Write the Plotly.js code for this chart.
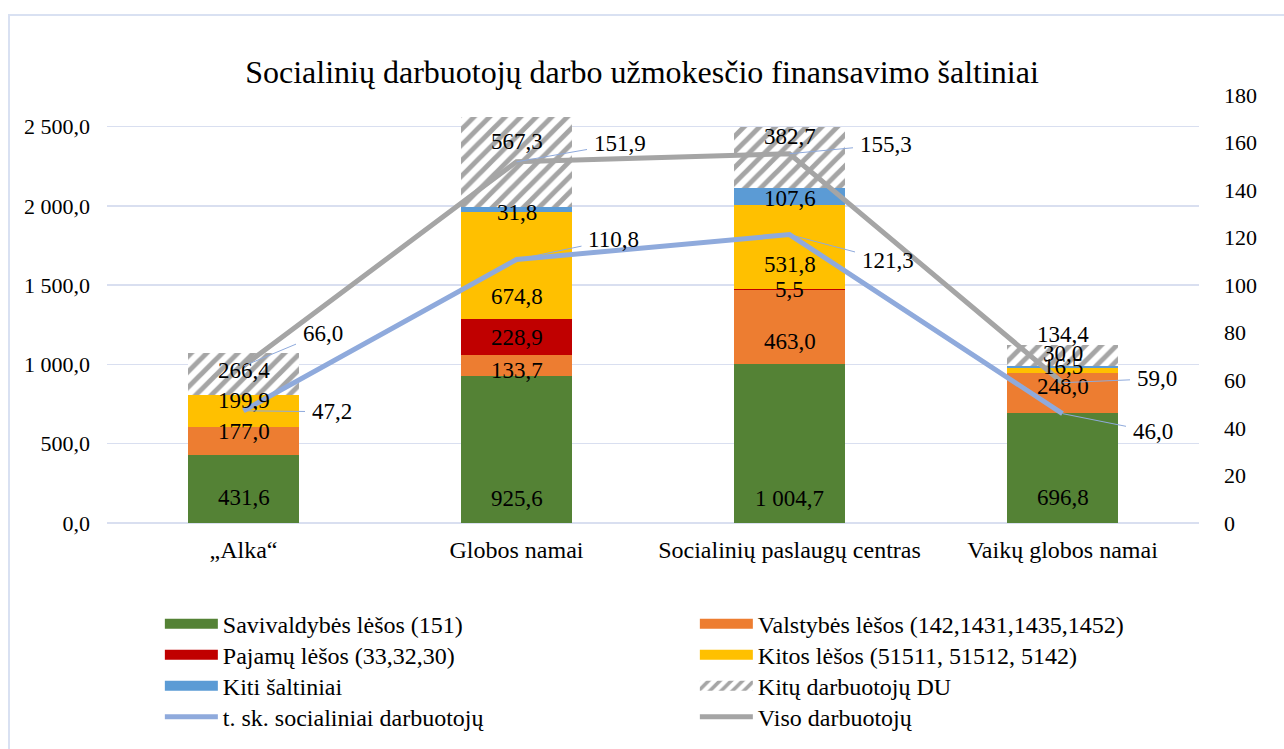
<!DOCTYPE html>
<html>
<head>
<meta charset="utf-8">
<script src="https://cdn.plot.ly/plotly-3.0.1.min.js"></script>
<style>
html,body{margin:0;padding:0;overflow:hidden;background:#fff;}
#chart{width:1284px;height:749px;}
#frame{position:absolute;left:8px;top:14px;width:1300px;height:800px;border:2px solid #D9E1F2;pointer-events:none;}
</style>
</head>
<body>
<div id="chart"></div>
<div id="frame"></div>
<script>
// ---- data ----
const categories = ['„Alka“', 'Globos namai', 'Socialinių paslaugų centras', 'Vaikų globos namai'];
const savivaldybes = [431.6, 925.6, 1004.7, 696.8];
const valstybes = [177.0, 133.7, 463.0, 248.0];
const pajamu = [null, 228.9, 5.5, null];
const kitos = [199.9, 674.8, 531.8, 30.0];
const kiti = [null, 31.8, 107.6, 16.5];
const kituDU = [266.4, 567.3, 382.7, 134.4];
const socialiniai = [47.2, 110.8, 121.3, 46.0];
const viso = [66.0, 151.9, 155.3, 59.0];
const seriesNames = ['Savivaldybės lėšos (151)', 'Valstybės lėšos (142,1431,1435,1452)', 'Pajamų lėšos (33,32,30)',
  'Kitos lėšos (51511, 51512, 5142)', 'Kiti šaltiniai', 'Kitų darbuotojų DU'];
const lineNames = ['t. sk. socialiniai darbuotojų', 'Viso darbuotojų'];
const leftTicks = [0, 500, 1000, 1500, 2000, 2500];
const rightTicks = [0, 20, 40, 60, 80, 100, 120, 140, 160, 180];

// ---- styles ----
const FONT = 'Liberation Serif';
const barColors = ['#548235', '#ED7D31', '#C00000', '#FFC000', '#5B9BD5', '#FFFFFF'];
// label offsets (pixels, positive = downwards) relative to segment centre
const labelShift = [
  [9, 49, 55, 30],
  [-9, 5, 14, -6],
  [0, 1, 0, 0],
  [-10, 31, 17, -17],
  [0, 3, 2, -1],
  [-3, -20, -21, -21]
];
// line label offsets (pixels) [ax, ay]
const socOffsets = [[88, 1], [97, -20], [98, 26], [90, 18]];
const visoOffsets = [[79, -33], [103, -18], [96, -9], [94, -4]];
const LEGEND_ROW_STEP = 31;

function fmt(v) {
  const s = v.toFixed(1).split('.');
  const intPart = s[0].replace(/\B(?=(\d{3})+(?!\d))/g, ' ');
  return intPart + ',' + s[1];
}

const barSeries = [savivaldybes, valstybes, pajamu, kitos, kiti, kituDU];
const traces = barSeries.map((vals, k) => {
  const t = {
    type: 'bar', x: categories, y: vals, name: seriesNames[k],
    marker: {color: barColors[k], line: {width: 0}},
    hoverinfo: 'skip'
  };
  if (k === 5) {
    t.marker.pattern = {shape: '/', fgcolor: '#A5A5A5', bgcolor: '#FFFFFF', size: 11, solidity: 0.45, fillmode: 'replace'};
  }
  return t;
});
traces.push({
  type: 'scatter', mode: 'lines', x: categories, y: socialiniai, name: lineNames[0], yaxis: 'y2',
  line: {color: '#8FAADC', width: 5}, hoverinfo: 'skip'
});
traces.push({
  type: 'scatter', mode: 'lines', x: categories, y: viso, name: lineNames[1], yaxis: 'y2',
  line: {color: '#A5A5A5', width: 5}, hoverinfo: 'skip'
});

// bar labels
const annotations = [];
const base = categories.map(() => 0);
barSeries.forEach((vals, k) => {
  vals.forEach((v, i) => {
    if (v === null || v === undefined) return;
    annotations.push({
      x: categories[i], y: base[i] + v / 2, xref: 'x', yref: 'y',
      text: fmt(v), showarrow: false, yshift: -labelShift[k][i],
      font: {family: FONT, size: 23, color: '#000'}
    });
    base[i] += v;
  });
});
// line labels with leader lines
[[socialiniai, socOffsets], [viso, visoOffsets]].forEach(([vals, offs]) => {
  vals.forEach((v, i) => {
    annotations.push({
      x: categories[i], y: v, xref: 'x', yref: 'y2',
      text: fmt(v), showarrow: true, arrowhead: 0, arrowwidth: 1, arrowcolor: '#8FAADC',
      ax: offs[i][0], ay: offs[i][1], borderpad: 6, standoff: 0,
      font: {family: FONT, size: 23, color: '#000'}
    });
  });
});

const layout = {
  width: 1284, height: 749,
  margin: {l: 107, r: 85, t: 95, b: 226, autoexpand: false},
  paper_bgcolor: '#FFFFFF', plot_bgcolor: '#FFFFFF',
  separators: ', ',
  font: {family: FONT, size: 22, color: '#000'},
  title: {text: 'Socialinių darbuotojų darbo užmokesčio finansavimo šaltiniai',
    font: {family: FONT, size: 32, color: '#000'}, x: 0.5, xref: 'container', y: 1 - 72 / 749, yref: 'container', yanchor: 'middle'},
  barmode: 'stack', bargap: 0.597,
  showlegend: true,
  xaxis: {type: 'category', showgrid: false, showline: false, ticks: '', tickfont: {family: FONT, size: 24},
    ticklabelstandoff: 10, fixedrange: true},
  yaxis: {range: [0, 2700], tickvals: leftTicks, tickformat: ',.1f', showgrid: true, gridcolor: '#D9DFF0', gridwidth: 1.5,
    zeroline: true, zerolinecolor: '#D9DFF0', zerolinewidth: 1.5, showline: false, ticks: '',
    tickfont: {family: FONT, size: 22}, ticklabelstandoff: 16},
  yaxis2: {range: [0, 180], tickvals: rightTicks, overlaying: 'y', side: 'right', showgrid: false, zeroline: false,
    showline: false, ticks: '', tickfont: {family: FONT, size: 22}, ticklabelstandoff: 24},
  legend: {orientation: 'h', x: 0.0484, xanchor: 'left', y: -0.1836, yanchor: 'top', traceorder: 'normal',
    entrywidth: 467, entrywidthmode: 'pixels', itemwidth: 53, font: {family: FONT, size: 24, color: '#000'},
    bgcolor: 'rgba(0,0,0,0)', itemclick: false, itemdoubleclick: false},
  annotations: annotations
};

Plotly.newPlot('chart', traces, layout, {staticPlot: true, displayModeBar: false}).then(() => {
  document.querySelectorAll('#chart .legend .legendpoints path').forEach(p => {
    const d = (p.getAttribute('d') || '').replace(/\s/g, '');
    if (d === 'M6,6H-6V-6H6Z') {
      p.setAttribute('d', 'M26.5,5H-26.5V-5H26.5Z');
    }
  });
  // tighten legend row spacing to match the reference
  const items = Array.from(document.querySelectorAll('#chart .legend g.traces'));
  const parsed = items.map(el => {
    const m = /translate\(\s*([-\d.]+)[ ,]+([-\d.]+)\s*\)/.exec(el.getAttribute('transform') || '');
    return m ? {el, x: parseFloat(m[1]), y: parseFloat(m[2])} : null;
  }).filter(Boolean);
  const rows = Array.from(new Set(parsed.map(p => p.y))).sort((a, b) => a - b);
  parsed.forEach(p => {
    const r = rows.indexOf(p.y);
    p.el.setAttribute('transform', 'translate(' + p.x + ',' + (rows[0] + r * LEGEND_ROW_STEP) + ')');
  });
});
</script>
</body>
</html>
